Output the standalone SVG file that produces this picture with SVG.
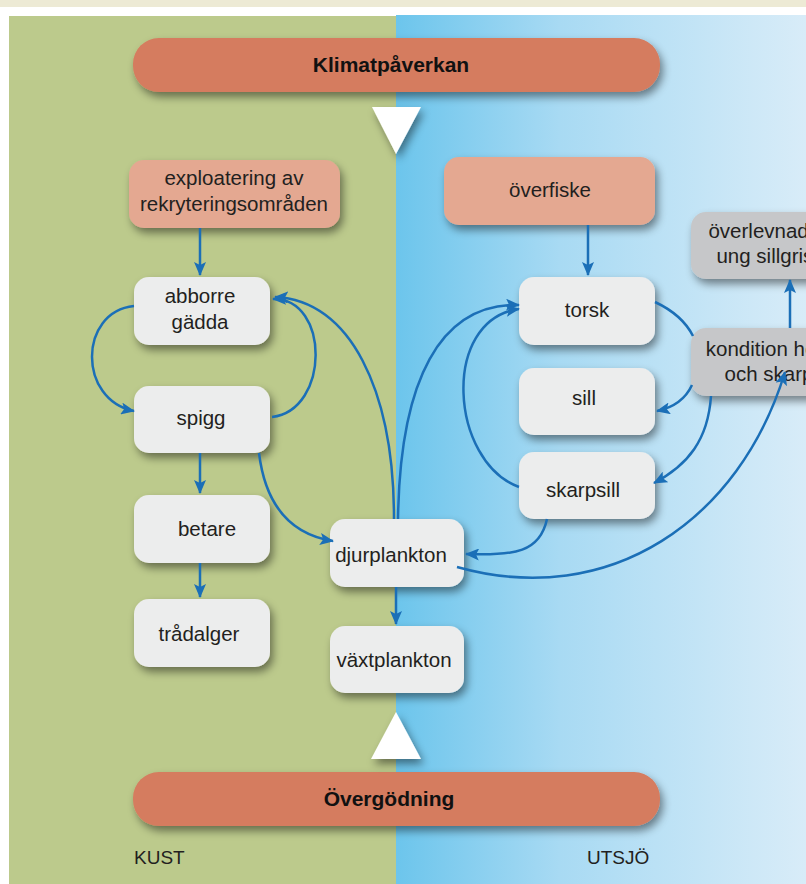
<svg xmlns="http://www.w3.org/2000/svg" width="806" height="884" viewBox="0 0 806 884">
<defs>
<linearGradient id="sea" x1="0" y1="0" x2="1" y2="0">
<stop offset="0" stop-color="#6CC5EC"/>
<stop offset="0.4" stop-color="#A8DAF3"/>
<stop offset="1" stop-color="#D8ECF8"/>
</linearGradient>
<filter id="sh" x="-20%" y="-30%" width="140%" height="170%">
<feDropShadow dx="3" dy="5" stdDeviation="4" flood-color="#000" flood-opacity="0.45"/>
</filter>
<marker id="ah" markerWidth="14" markerHeight="12" refX="13" refY="6" orient="auto" markerUnits="userSpaceOnUse">
<path d="M0,0 L14,6 L0,12 L3,6 z" fill="#1B6FB7"/>
</marker>
<style>
.node{stroke:none;filter:url(#sh)}
.n{fill:#ECEDED}
.p{fill:#E4A891}
.g{fill:#C6C7C9}
.bar{fill:#D57C5E;filter:url(#sh)}
.t{font-family:"Liberation Sans",Arial,sans-serif;font-size:20.5px;fill:#231F20;text-anchor:middle}
.b{font-family:"Liberation Sans",Arial,sans-serif;font-size:21px;font-weight:bold;fill:#111;text-anchor:middle}
.lbl{font-family:"Liberation Sans",Arial,sans-serif;font-size:19px;fill:#231F20}
.c{fill:none;stroke:#1B6FB7;stroke-width:2.5}
.tri{fill:#fff;filter:url(#sh)}
</style>
</defs>

<g id="background">
<rect x="0" y="0" width="806" height="884" fill="#fff"/>
<rect x="0" y="0" width="806" height="7" fill="#EDEAD5"/>
<rect x="9" y="16" width="388" height="868" fill="#BCCA8C"/>
<rect x="396" y="15" width="410" height="869" fill="url(#sea)"/>
</g>

<g id="klimat">
<rect class="bar" x="133" y="38" width="527" height="54" rx="26"/>
<text class="b" x="391" y="72">Klimatpåverkan</text>
</g>
<g id="tri-down"><polygon class="tri" points="372,107 421,107 396,154"/></g>

<g id="overgodning">
<rect class="bar" x="133" y="772" width="527" height="54" rx="26"/>
<text class="b" x="389" y="806">Övergödning</text>
</g>
<g id="tri-up"><polygon class="tri" points="396,712 371,759 421,759"/></g>

<g id="exploatering"><rect class="node p" x="129" y="160" width="211" height="68" rx="15"/>
<text class="t" x="234" y="185">exploatering av</text><text class="t" x="234" y="211">rekryteringsområden</text></g>
<g id="abborre"><rect class="node n" x="134" y="277" width="136" height="68" rx="15"/>
<text class="t" x="200" y="303">abborre</text><text class="t" x="200" y="329">gädda</text></g>
<g id="spigg"><rect class="node n" x="134" y="386" width="136" height="67" rx="15"/>
<text class="t" x="201" y="425">spigg</text></g>
<g id="betare"><rect class="node n" x="134" y="495" width="136" height="68" rx="15"/>
<text class="t" x="207" y="536">betare</text></g>
<g id="tradalger"><rect class="node n" x="134" y="599" width="136" height="68" rx="15"/>
<text class="t" x="199" y="641">trådalger</text></g>
<g id="djurplankton"><rect class="node n" x="330" y="519" width="134" height="68" rx="15"/>
<text class="t" x="391" y="562">djurplankton</text></g>
<g id="vaxtplankton"><rect class="node n" x="330" y="626" width="134" height="67" rx="15"/>
<text class="t" x="394" y="667">växtplankton</text></g>
<g id="overfiske"><rect class="node p" x="444" y="157" width="211" height="68" rx="15"/>
<text class="t" x="550" y="197">överfiske</text></g>
<g id="torsk"><rect class="node n" x="519" y="277" width="136" height="68" rx="15"/>
<text class="t" x="587" y="317">torsk</text></g>
<g id="sill"><rect class="node n" x="519" y="368" width="136" height="67" rx="15"/>
<text class="t" x="584" y="405">sill</text></g>
<g id="skarpsill"><rect class="node n" x="519" y="452" width="136" height="67" rx="15"/>
<text class="t" x="583" y="497">skarpsill</text></g>
<g id="overlevnad"><rect class="node g" x="691" y="212" width="170" height="67" rx="15"/>
<text class="t" x="778" y="238">överlevnad hos</text><text class="t" x="778" y="263">ung sillgrissla</text></g>
<g id="kondition"><rect class="node g" x="691" y="328" width="170" height="68" rx="15"/>
<text class="t" x="781" y="356">kondition hos sill</text><text class="t" x="781" y="381">och skarpsill</text></g>

<g id="connectors">
<path class="c" d="M200,228 L200,275" marker-end="url(#ah)"/>
<path class="c" d="M134,306 C78,312 78,400 134,411" marker-end="url(#ah)"/>
<path class="c" d="M272,417 C330,410 330,298 273,299" marker-end="url(#ah)"/>
<path class="c" d="M394,519 C394,390 350,300 275,297" marker-end="url(#ah)"/>
<path class="c" d="M398,519 C400,380 440,303 519,305" marker-end="url(#ah)"/>
<path class="c" d="M519,487 C450,462 440,320 519,309" marker-end="url(#ah)"/>
<path class="c" d="M259,453 C266,510 295,535 333,541" marker-end="url(#ah)"/>
<path class="c" d="M200,453 L200,493" marker-end="url(#ah)"/>
<path class="c" d="M200,563 L200,597" marker-end="url(#ah)"/>
<path class="c" d="M396,587 L396,624" marker-end="url(#ah)"/>
<path class="c" d="M547,519 C540,552 515,556 466,554" marker-end="url(#ah)"/>
<path class="c" d="M457,567 C610,610 740,520 785,372" marker-end="url(#ah)"/>
<path class="c" d="M655,302 C672,310 686,322 693,336" stroke-width="3"/>
<path class="c" d="M692,385 C686,398 676,407 657,411" marker-end="url(#ah)"/>
<path class="c" d="M711,396 C708,440 688,465 654,483" marker-end="url(#ah)"/>
<path class="c" d="M588,225 L588,275" marker-end="url(#ah)"/>
<path class="c" d="M790,328 L790,280" marker-end="url(#ah)"/>
</g>

<g id="labels">
<text class="lbl" x="134" y="864">KUST</text>
<text class="lbl" x="587" y="864">UTSJÖ</text>
</g>
</svg>
